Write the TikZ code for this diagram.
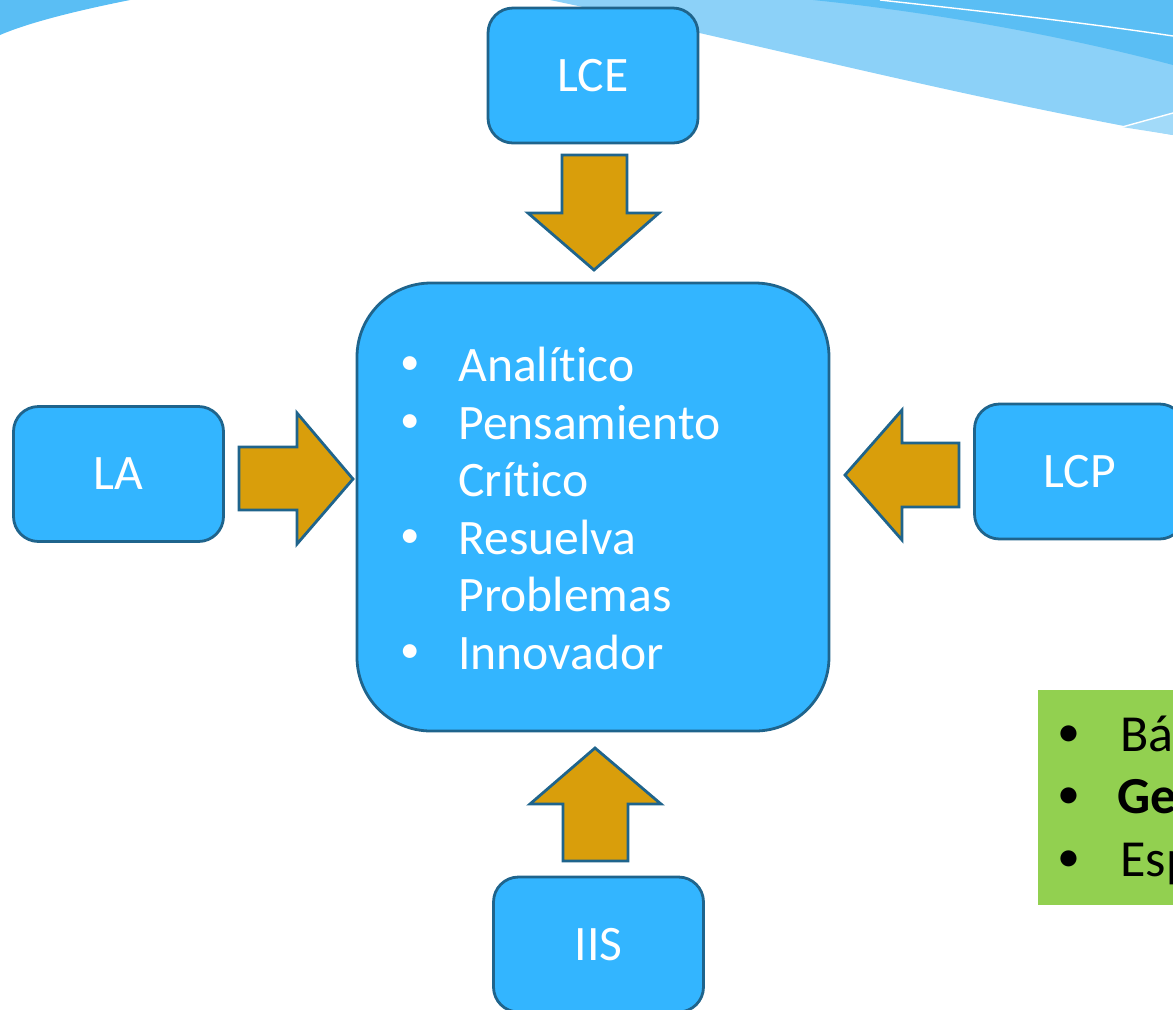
\documentclass[tikz,border=0pt]{standalone}
\usepackage{fontspec}
\setmainfont{Carlito}[Ligatures=NoCommon]
\definecolor{boxfill}{HTML}{33B5FF}
\definecolor{boxline}{HTML}{1F648C}
\definecolor{gold}{HTML}{D99E0B}
\definecolor{lgreen}{HTML}{92D050}
\definecolor{swdark}{HTML}{5ABEF4}
\definecolor{swlight}{HTML}{8CD1F8}
\definecolor{swpale}{HTML}{A2DAF9}
\begin{document}
\begin{tikzpicture}[x=0.5pt,y=-0.5pt,
  lbox/.style={draw=boxline,line width=1.4pt,fill=boxfill,rounded corners=12.5pt,
    minimum width=105pt,minimum height=67.5pt,inner sep=0pt,text=white,
    font=\fontsize{24.8}{29}\selectfont},
  cbox/.style={draw=boxline,line width=1.4pt,fill=boxfill,rounded corners=37pt,
    minimum width=236pt,minimum height=224pt,inner sep=0pt},
  barrow/.style={draw=boxline,line width=1.4pt,fill=gold,line join=miter},
  ctext/.style={anchor=base west,inner sep=0pt,text=white,font=\fontsize{24.8}{29}\selectfont},
  cbul/.style={anchor=base west,inner sep=0pt,text=white,font=\fontsize{19.5}{23}\selectfont},
  gtext/.style={anchor=base west,inner sep=0pt,text=black,font=\fontsize{26}{31}\selectfont},
  gbul/.style={anchor=base west,inner sep=0pt,text=black,font=\fontsize{19}{23}\selectfont\bfseries}]
\useasboundingbox (0,0) rectangle (1173,1009);
\clip (0,0) rectangle (1173,1009);
% background swooshes
\fill[swdark] (0,0) -- (130,0) .. controls (80,10) and (30,22) .. (0,35) -- cycle;
\fill[swlight] (550,0) .. controls (750,42) and (950,95) .. (1173,135) -- (1173,0) -- cycle;
\fill[swdark] (813,0) .. controls (930,12) and (1060,35) .. (1173,65) -- (1173,0) -- cycle;
\draw[white,line width=0.7pt] (880,0) .. controls (980,11) and (1080,22) .. (1173,36);
\fill[swpale] (1122,127) -- (1173,113) -- (1173,135) -- cycle;
\draw[white,line width=0.7pt] (1122,127) -- (1173,113);
% boxes
\node[lbox] (lce) at (593,75.5) {LCE};
\node[lbox] (la) at (118.5,474) {LA};
\node[lbox] (lcp) at (1079.5,471.5) {LCP};
\node[lbox] (iis) at (598.5,944.5) {IIS};
\node[cbox] (center) at (593,507) {};
% block arrows
\draw[barrow] (562,155) -- (627,155) -- (627,213) -- (659,213) -- (594,270) -- (528,213) -- (562,213) -- cycle;
\draw[barrow] (239,447) -- (297,447) -- (297,413) -- (353,479) -- (297,544) -- (297,510) -- (239,510) -- cycle;
\draw[barrow] (959,443) -- (902,443) -- (902,410) -- (845,475) -- (902,540) -- (902,507) -- (959,507) -- cycle;
\draw[barrow] (563,861) -- (628,861) -- (628,804) -- (661,804) -- (595,748) -- (530,804) -- (563,804) -- cycle;
% centre text
\node[cbul] (b1) at (400,374) {•};
\node[ctext] (t1) at (458,381) {Analítico};
\node[cbul] (b2) at (400,432) {•};
\node[ctext] (t2) at (458,439) {Pensamiento};
\node[ctext] (t3) at (458,496) {Crítico};
\node[cbul] (b4) at (400,547) {•};
\node[ctext] (t4) at (458,554) {Resuelva};
\node[ctext] (t5) at (458,611) {Problemas};
\node[cbul] (b6) at (400,662) {•};
\node[ctext] (t6) at (458,669) {Innovador};
% green box
\fill[lgreen] (1038,690) rectangle (1180,905);
\node[gbul] (g1b) at (1059,744) {•};
\node[gtext] (g1) at (1120,751) {Bá};
\node[gbul] (g2b) at (1059,806) {•};
\node[gtext] (g2) at (1117,813) {\textbf{Ge}};
\node[gbul] (g3b) at (1059,869) {•};
\node[gtext] (g3) at (1120,876) {Esp};
\end{tikzpicture}
\end{document}
